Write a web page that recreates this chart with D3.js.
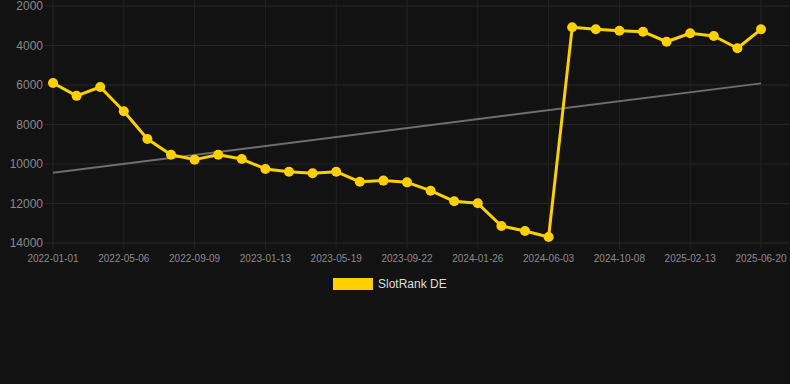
<!DOCTYPE html>
<html>
<head>
<meta charset="utf-8">
<script src="https://cdn.jsdelivr.net/npm/d3@7"></script>
<style>
  html, body { margin: 0; padding: 0; background: #121212; }
  svg { display: block; font-family: "Liberation Sans", Arial, sans-serif; }
</style>
</head>
<body>
<div id="chart"></div>
<script>
// categories (one point per date, evenly spaced on the axis)
const dates = [
  "2022-01-01", "2022-02-12", "2022-03-26",
  "2022-05-06", "2022-06-17", "2022-07-29",
  "2022-09-09", "2022-10-21", "2022-12-02",
  "2023-01-13", "2023-02-24", "2023-04-07",
  "2023-05-19", "2023-06-30", "2023-08-11",
  "2023-09-22", "2023-11-03", "2023-12-15",
  "2024-01-26", "2024-03-08", "2024-04-22",
  "2024-06-03", "2024-07-16", "2024-08-27",
  "2024-10-08", "2024-11-19", "2025-01-01",
  "2025-02-13", "2025-03-28", "2025-05-09",
  "2025-06-20"
];
// SlotRank DE values
const rank = [
  5900, 6550, 6100, 7330, 8730, 9530, 9780, 9530, 9750, 10250,
  10390, 10470, 10390, 10900, 10840, 10930, 11350, 11890, 11990, 13140,
  13390, 13700, 3080, 3180, 3250, 3300, 3810, 3380, 3520, 4140,
  3180
];
const yTicks = [2000, 4000, 6000, 8000, 10000, 12000, 14000];
const seriesName = "SlotRank DE";

const width = 790, height = 384;
const svg = d3.select("#chart").append("svg")
  .attr("width", width)
  .attr("height", height);

const x = d3.scalePoint().domain(dates).range([53, 761]);
const y = d3.scaleLinear().domain([2000, 14000]).range([6, 243]);

// horizontal grid
svg.append("g")
  .selectAll("line")
  .data(yTicks)
  .enter().append("line")
  .attr("x1", 45).attr("x2", width)
  .attr("y1", d => y(d)).attr("y2", d => y(d))
  .attr("stroke", "#262626").attr("stroke-width", 1);

// vertical grid, one per labelled date
const xTicks = dates.filter((d, i) => i % 3 === 0);
svg.append("g")
  .selectAll("line")
  .data(xTicks)
  .enter().append("line")
  .attr("x1", d => x(d)).attr("x2", d => x(d))
  .attr("y1", 0).attr("y2", 249)
  .attr("stroke", "#222").attr("stroke-width", 1);

// y labels
svg.append("g")
  .selectAll("text")
  .data(yTicks)
  .enter().append("text")
  .attr("x", 43)
  .attr("y", d => y(d))
  .attr("dy", "0.35em")
  .attr("text-anchor", "end")
  .attr("fill", "#8a8a8a")
  .style("font-size", "12px")
  .text(d => d);

// x labels
svg.append("g")
  .selectAll("text")
  .data(xTicks)
  .enter().append("text")
  .attr("x", d => x(d))
  .attr("y", 262)
  .attr("text-anchor", "middle")
  .attr("fill", "#8a8a8a")
  .style("font-size", "10px")
  .text(d => d);

// linear trend (least squares on the series)
const n = rank.length;
const mx = d3.mean(rank, (d, i) => i);
const my = d3.mean(rank);
const slope = d3.sum(rank, (d, i) => (i - mx) * (d - my)) / d3.sum(rank, (d, i) => (i - mx) * (i - mx));
const trend = [0, n - 1].map(i => ({ d: dates[i], v: my + slope * (i - mx) }));
svg.append("path")
  .datum(trend)
  .attr("fill", "none")
  .attr("stroke", "#6e6e6e")
  .attr("stroke-width", 2)
  .attr("d", d3.line().x(p => x(p.d)).y(p => y(p.v)));

// series line
const pts = dates.map((d, i) => ({ d, v: rank[i] }));
svg.append("path")
  .datum(pts)
  .attr("fill", "none")
  .attr("stroke", "#FFD000")
  .attr("stroke-width", 3)
  .attr("stroke-linejoin", "round")
  .attr("d", d3.line().x(p => x(p.d)).y(p => y(p.v)));

svg.append("g")
  .selectAll("circle")
  .data(pts)
  .enter().append("circle")
  .attr("cx", p => x(p.d))
  .attr("cy", p => y(p.v))
  .attr("r", 5)
  .attr("fill", "#FFD000");

// legend
const lg = svg.append("g");
lg.append("rect")
  .attr("x", 333).attr("y", 278)
  .attr("width", 40).attr("height", 12)
  .attr("fill", "#FFD000");
lg.append("text")
  .attr("x", 378).attr("y", 284)
  .attr("dy", "0.35em")
  .attr("fill", "#dddddd")
  .style("font-size", "12px")
  .text(seriesName);
</script>
</body>
</html>
